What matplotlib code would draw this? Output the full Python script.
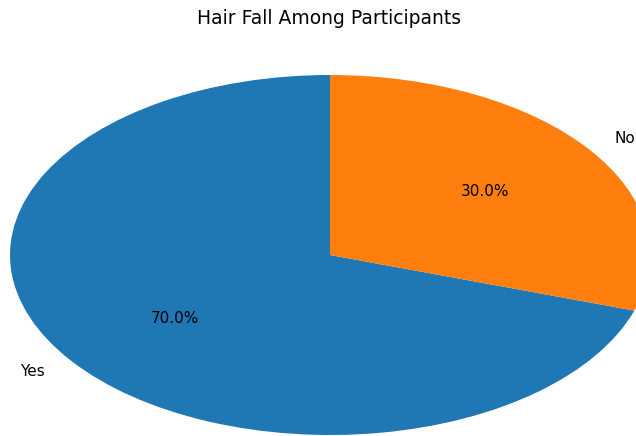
import matplotlib.pyplot as plt

# Hair fall survey answers
labels = ['Yes', 'No']
shares = [70, 30]
colors = ['#1f77b4', '#ff7f0e']

fig = plt.figure(figsize=(6.36, 4.36), dpi=100)
ax = fig.add_axes([0, 0, 1, 1])

ax.pie(shares, labels=labels, colors=colors, autopct='%1.1f%%', startangle=90,
       textprops={'fontsize': 11})

# the original picture is stretched wide and cut at the right and bottom
ax.set_aspect('auto')
ax.set_xlim(-330 / 320, 306 / 320)
ax.set_ylim(-181 / 180, 255 / 180)
ax.axis('off')

fig.text(329 / 636, 1 - 18 / 436, 'Hair Fall Among Participants',
         ha='center', va='center', fontsize=13.5)

fig.savefig('out.png', dpi=100)
